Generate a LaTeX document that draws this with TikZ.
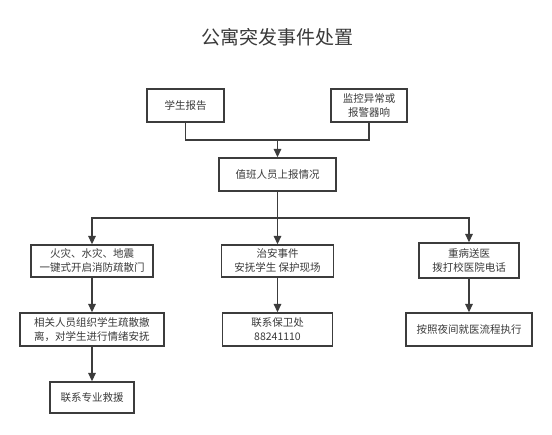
\documentclass[tikz,border=0pt]{standalone}
\usepackage{fontspec}
\setmainfont{Noto Sans CJK SC}
\usetikzlibrary{arrows.meta}
\definecolor{ln}{HTML}{3C3C3C}
\definecolor{tx}{HTML}{3A3A3A}
\begin{document}
\begin{tikzpicture}[x=1pt,y=-1pt,
  box/.style={draw=ln,line width=1.3pt,fill=white,inner sep=0pt,align=center,
    text=tx,font=\fontsize{10.5}{14}\selectfont},
  conn/.style={draw=ln,line width=1.4pt},
  arr/.style={conn,-{Triangle[length=8.5pt,width=7.5pt]}}]
\useasboundingbox[fill=white] (0,0) rectangle (552,435);
\node[text=tx,font=\fontsize{19}{22}\selectfont] (title) at (277,37) {公寓突发事件处置};
\node[box,minimum width=77pt,minimum height=33pt] (rep) at (185.5,105.5) {学生报告};
\node[box,minimum width=76pt,minimum height=33pt] (mon) at (369,105.5) {监控异常或\\报警器响};
\node[box,minimum width=117pt,minimum height=33pt] (duty) at (277.5,174.5) {值班人员上报情况};
\node[box,minimum width=122pt,minimum height=32pt] (fire) at (92,261) {火灾、水灾、地震\\一键式开启消防疏散门};
\node[box,minimum width=112pt,minimum height=32pt] (sec) at (277.5,261) {治安事件\\安抚学生 保护现场};
\node[box,minimum width=100pt,minimum height=35pt] (sick) at (469,260.5) {重病送医\\拨打校医院电话};
\node[box,minimum width=144pt,minimum height=33pt] (evac) at (92,329.5) {相关人员组织学生疏散撤\\离，对学生进行情绪安抚};
\node[box,minimum width=110pt,minimum height=33pt] (guard) at (277.5,329.5) {联系保卫处\\88241110};
\node[box,minimum width=126pt,minimum height=33pt] (night) at (469,329.5) {按照夜间就医流程执行};
\node[box,minimum width=84pt,minimum height=31pt] (help) at (92,397.5) {联系专业救援};
\coordinate (m) at (277.5,140);
\coordinate (j) at (277.5,218);
\draw[conn] (rep.south) |- (m) -| (mon.south);
\draw[arr] (m) -- (duty.north);
\draw[arr] (duty.south) -- (sec.north);
\draw[arr] (j) -| (fire.north);
\draw[arr] (j) -| (sick.north);
\draw[arr] (fire.south) -- (evac.north);
\draw[arr] (evac.south) -- (help.north);
\draw[arr] (sec.south) -- (guard.north);
\draw[arr] (sick.south) -- (night.north);
\end{tikzpicture}
\end{document}
